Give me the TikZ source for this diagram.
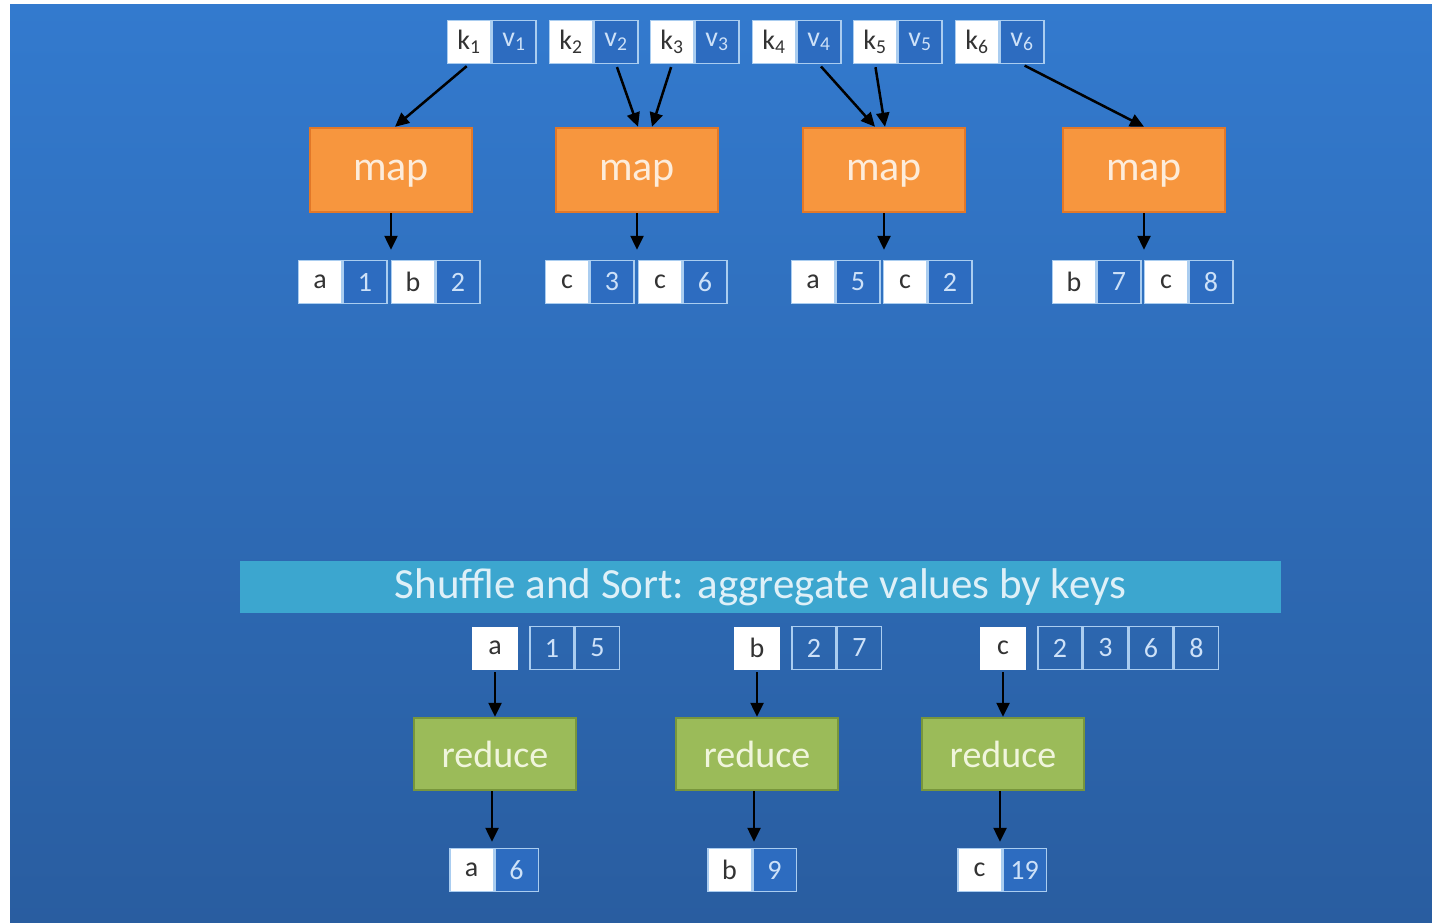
\documentclass[tikz,border=0pt]{standalone}
\usepackage{fontspec}
\setmainfont{Carlito}
\usetikzlibrary{positioning,arrows.meta}
\definecolor{bgtop}{RGB}{51,122,206}
\definecolor{bgbot}{RGB}{41,93,160}
\definecolor{cellline}{RGB}{170,205,240}
\definecolor{cellblue}{RGB}{45,108,192}
\definecolor{valtext}{RGB}{205,225,248}
\definecolor{maporange}{RGB}{247,150,62}
\definecolor{mapedge}{RGB}{226,120,40}
\definecolor{maptext}{RGB}{253,236,218}
\definecolor{redgreen}{RGB}{155,187,89}
\definecolor{rededge}{RGB}{120,150,60}
\definecolor{redtext}{RGB}{240,245,220}
\definecolor{shufblue}{RGB}{60,166,207}
\definecolor{shuftext}{RGB}{222,240,248}
\newcommand\kvfont{\fontsize{28}{30}\selectfont}
\newcommand\mapfont{\fontsize{42}{46}\selectfont}
\newcommand\redfont{\fontsize{38}{42}\selectfont}
\newcommand\shuffont{\fontsize{43}{47}\selectfont}

\begin{document}
\begin{tikzpicture}[x=1pt, y=-1pt, node distance=0pt,
  kcell/.style = {draw=cellline, line width=1.5pt, fill=white, text=black!80, font=\kvfont, minimum width=43.5, minimum height=43, inner sep=0pt},
  vcell/.style = {draw=cellline, line width=1.5pt, fill=cellblue, text=valtext, font=\kvfont, minimum width=43.5, minimum height=43, inner sep=0pt},
  lcell/.style = {draw=cellline, line width=1.5pt, text=valtext, font=\kvfont, minimum width=44, minimum height=43, inner sep=0pt},
  mapbox/.style = {draw=mapedge, line width=2.5pt, fill=maporange, text=maptext, font=\mapfont, text depth=0pt, minimum width=162, minimum height=84},
  redbox/.style = {draw=rededge, line width=2.5pt, fill=redgreen, text=redtext, font=\redfont, minimum width=162, minimum height=72},
  arr/.style = {-{Triangle[length=14pt,width=13pt]}, line width=2.5pt, black}]
\useasboundingbox (0,0) rectangle (1432,923);
\fill[white] (0,0) rectangle (1432,923);
\shade[top color=bgtop, bottom color=bgbot] (10,5) rectangle (1432,923);

% input pairs
\node[kcell] (k1) at (469,42) {k\textsubscript{1}};
\node[vcell, right=of k1] (v1) {v\textsubscript{1}};
\node[kcell] (k2) at (571,42) {k\textsubscript{2}};
\node[vcell, right=of k2] (v2) {v\textsubscript{2}};
\node[kcell] (k3) at (672,42) {k\textsubscript{3}};
\node[vcell, right=of k3] (v3) {v\textsubscript{3}};
\node[kcell] (k4) at (774,42) {k\textsubscript{4}};
\node[vcell, right=of k4] (v4) {v\textsubscript{4}};
\node[kcell] (k5) at (875,42) {k\textsubscript{5}};
\node[vcell, right=of k5] (v5) {v\textsubscript{5}};
\node[kcell] (k6) at (977,42) {k\textsubscript{6}};
\node[vcell, right=of k6] (v6) {v\textsubscript{6}};

% mappers
\node[mapbox] (m1) at (391,170) {map};
\node[mapbox] (m2) at (637,170) {map};
\node[mapbox] (m3) at (884,170) {map};
\node[mapbox] (m4) at (1144,170) {map};

\draw[arr, shorten <=3pt] (k1.south) -- ([xshift=4]m1.north);
\draw[arr, shorten <=3pt] (v2.south) -- ([xshift=1]m2.north);
\draw[arr, shorten <=3pt] (k3.south) -- ([xshift=15]m2.north);
\draw[arr, shorten <=3pt] (v4.south) -- ([xshift=-9]m3.north);
\draw[arr, shorten <=3pt] (k5.south) -- ([xshift=1]m3.north);
\draw[arr, shorten <=3pt] (v6.south) -- (m4.north);

% map outputs
\node[kcell] (o11k) at (320,282) {a};
\node[vcell, right=of o11k] (o11v) {1};
\node[kcell] (o12k) at (413,282) {b};
\node[vcell, right=of o12k] (o12v) {2};
\node[kcell] (o21k) at (567,282) {c};
\node[vcell, right=of o21k] (o21v) {3};
\node[kcell] (o22k) at (660,282) {c};
\node[vcell, right=of o22k] (o22v) {6};
\node[kcell] (o31k) at (813,282) {a};
\node[vcell, right=of o31k] (o31v) {5};
\node[kcell] (o32k) at (905,282) {c};
\node[vcell, right=of o32k] (o32v) {2};
\node[kcell] (o41k) at (1074,282) {b};
\node[vcell, right=of o41k] (o41v) {7};
\node[kcell] (o42k) at (1166,282) {c};
\node[vcell, right=of o42k] (o42v) {8};

\draw[arr, shorten >=10pt] (m1.south) -- (m1.south |- o11k.north);
\draw[arr, shorten >=10pt] (m2.south) -- (m2.south |- o21k.north);
\draw[arr, shorten >=10pt] (m3.south) -- (m3.south |- o31k.north);
\draw[arr, shorten >=10pt] (m4.south) -- (m4.south |- o41k.north);

% shuffle
\node[fill=shufblue, text=shuftext, font=\shuffont, minimum width=1041, minimum height=52, inner sep=0pt] (shuf) at (760.5,587) {Shuffle and Sort: aggregate values by keys};

% grouped values
\node[kcell, draw=none, minimum width=46] (ga) at (495,648) {a};
\node[lcell] (ga1) at (552,648) {1};
\node[lcell, right=of ga1] (ga2) {5};
\node[kcell, draw=none, minimum width=46] (gb) at (757,648) {b};
\node[lcell] (gb1) at (814,648) {2};
\node[lcell, right=of gb1] (gb2) {7};
\node[kcell, draw=none, minimum width=46] (gc) at (1003,648) {c};
\node[lcell] (gc1) at (1060,648) {2};
\node[lcell, right=of gc1] (gc2) {3};
\node[lcell, right=of gc2] (gc3) {6};
\node[lcell, right=of gc3] (gc4) {8};

% reducers
\node[redbox] (r1) at (495,754) {reduce};
\node[redbox] (r2) at (757,754) {reduce};
\node[redbox] (r3) at (1003,754) {reduce};

\draw[arr, shorten <=2pt] (ga.south) -- (r1.north);
\draw[arr, shorten <=2pt] (gb.south) -- (r2.north);
\draw[arr, shorten <=2pt] (gc.south) -- (r3.north);

% results
\node[kcell] (ra) at (471.5,870) {a};
\node[vcell, right=of ra] (ra6) {\raisebox{-5pt}{6}};
\node[kcell] (rb) at (729.5,870) {b};
\node[vcell, right=of rb] (rb9) {\raisebox{-5pt}{9}};
\node[kcell] (rc) at (979.5,870) {c};
\node[vcell, right=of rc] (rc19) {\raisebox{-5pt}{19}};

\draw[arr, shorten >=6pt] ([xshift=-3]r1.south) -- ([xshift=-3]r1.south |- ra.north);
\draw[arr, shorten >=6pt] ([xshift=-3]r2.south) -- ([xshift=-3]r2.south |- rb.north);
\draw[arr, shorten >=6pt] ([xshift=-3]r3.south) -- ([xshift=-3]r3.south |- rc.north);
\end{tikzpicture}
\end{document}
